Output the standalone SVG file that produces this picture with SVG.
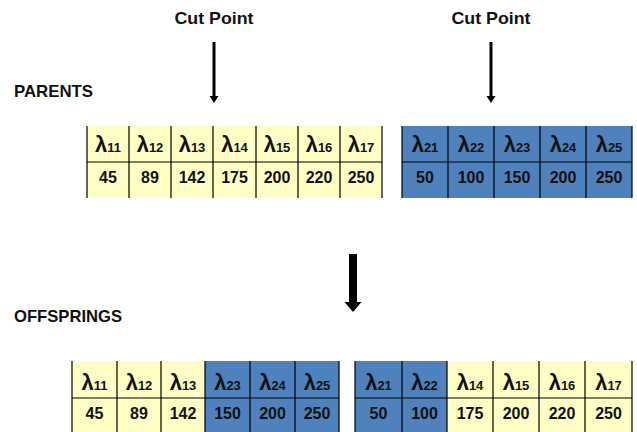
<svg xmlns="http://www.w3.org/2000/svg" width="637" height="432" viewBox="0 0 637 432">
<style>
.lbl{font-family:"Liberation Sans",Arial,sans-serif;font-weight:bold;font-size:17px;fill:#111}
.h{font-family:"Liberation Sans",Arial,sans-serif;font-weight:bold;font-size:22px;fill:#111;text-anchor:middle}
.s{font-size:13px}
.n{font-family:"Liberation Sans",Arial,sans-serif;font-weight:bold;font-size:16px;fill:#111;text-anchor:middle}
.y{fill:#FFFFC5}
.b{fill:#4F81BD}
.g{stroke:#000;stroke-width:1.2;fill:none}
</style>
<rect width="637" height="432" fill="#fff"/>
<g id="labels">
<text class="lbl" x="214" y="24" text-anchor="middle" textLength="79" lengthAdjust="spacingAndGlyphs">Cut Point</text>
<text class="lbl" x="491" y="24" text-anchor="middle" textLength="79" lengthAdjust="spacingAndGlyphs">Cut Point</text>
<text class="lbl" x="14" y="97" textLength="79" lengthAdjust="spacingAndGlyphs">PARENTS</text>
<text class="lbl" x="14" y="322" textLength="108" lengthAdjust="spacingAndGlyphs">OFFSPRINGS</text>
</g>
<g id="parent1">
<rect class="y" x="87" y="126" width="295" height="72"/>
<path class="g" d="M87 126V198M129 126V198M171 126V198M213 126V198M256 126V198M298 126V198M340 126V198M382 126V198M87 162H382"/>
<text class="h" x="108" y="152">λ<tspan class="s">11</tspan></text>
<text class="h" x="150" y="152">λ<tspan class="s">12</tspan></text>
<text class="h" x="192" y="152">λ<tspan class="s">13</tspan></text>
<text class="h" x="234.5" y="152">λ<tspan class="s">14</tspan></text>
<text class="h" x="277" y="152">λ<tspan class="s">15</tspan></text>
<text class="h" x="319" y="152">λ<tspan class="s">16</tspan></text>
<text class="h" x="361" y="152">λ<tspan class="s">17</tspan></text>
<text class="n" x="108" y="183">45</text>
<text class="n" x="150" y="183">89</text>
<text class="n" x="192" y="183">142</text>
<text class="n" x="234.5" y="183">175</text>
<text class="n" x="277" y="183">200</text>
<text class="n" x="319" y="183">220</text>
<text class="n" x="361" y="183">250</text>
</g>
<g id="parent2">
<rect class="b" x="402" y="126" width="230" height="72"/>
<path class="g" d="M402 126V198M448 126V198M494 126V198M540 126V198M586 126V198M632 126V198M402 162H632"/>
<text class="h" x="425" y="152">λ<tspan class="s">21</tspan></text>
<text class="h" x="471" y="152">λ<tspan class="s">22</tspan></text>
<text class="h" x="517" y="152">λ<tspan class="s">23</tspan></text>
<text class="h" x="563" y="152">λ<tspan class="s">24</tspan></text>
<text class="h" x="609" y="152">λ<tspan class="s">25</tspan></text>
<text class="n" x="425" y="183">50</text>
<text class="n" x="471" y="183">100</text>
<text class="n" x="517" y="183">150</text>
<text class="n" x="563" y="183">200</text>
<text class="n" x="609" y="183">250</text>
</g>
<g id="offspring1">
<rect class="y" x="72" y="361" width="133" height="71"/>
<rect class="b" x="205" y="361" width="134" height="71"/>
<path class="g" d="M72 361V432M117 361V432M161 361V432M205 361V432M250 361V432M295 361V432M339 361V432M72 398H339"/>
<text class="h" x="94.5" y="390">λ<tspan class="s">11</tspan></text>
<text class="h" x="139" y="390">λ<tspan class="s">12</tspan></text>
<text class="h" x="183" y="390">λ<tspan class="s">13</tspan></text>
<text class="h" x="227.5" y="390">λ<tspan class="s">23</tspan></text>
<text class="h" x="272.5" y="390">λ<tspan class="s">24</tspan></text>
<text class="h" x="317" y="390">λ<tspan class="s">25</tspan></text>
<text class="n" x="94.5" y="419">45</text>
<text class="n" x="139" y="419">89</text>
<text class="n" x="183" y="419">142</text>
<text class="n" x="227.5" y="419">150</text>
<text class="n" x="272.5" y="419">200</text>
<text class="n" x="317" y="419">250</text>
</g>
<g id="offspring2">
<rect class="b" x="355" y="361" width="92" height="71"/>
<rect class="y" x="447" y="361" width="185" height="71"/>
<path class="g" d="M355 361V432M402 361V432M447 361V432M493 361V432M539 361V432M585 361V432M632 361V432M355 398H632"/>
<text class="h" x="378.5" y="390">λ<tspan class="s">21</tspan></text>
<text class="h" x="424.5" y="390">λ<tspan class="s">22</tspan></text>
<text class="h" x="470" y="390">λ<tspan class="s">14</tspan></text>
<text class="h" x="516" y="390">λ<tspan class="s">15</tspan></text>
<text class="h" x="562" y="390">λ<tspan class="s">16</tspan></text>
<text class="h" x="608.5" y="390">λ<tspan class="s">17</tspan></text>
<text class="n" x="378.5" y="419">50</text>
<text class="n" x="424.5" y="419">100</text>
<text class="n" x="470" y="419">175</text>
<text class="n" x="516" y="419">200</text>
<text class="n" x="562" y="419">220</text>
<text class="n" x="608.5" y="419">250</text>
</g>
<g id="connectors" fill="#000">
<polygon points="212.5,42 215.5,42 215.5,96 218.5,96 214,103 209.5,96 212.5,96"/>
<polygon points="489.5,42 492.5,42 492.5,96 495.5,96 491,103 486.5,96 489.5,96"/>
<polygon points="349,254 357,254 357,302 361.5,302 353,312 344.5,302 349,302"/>
</g>
</svg>
